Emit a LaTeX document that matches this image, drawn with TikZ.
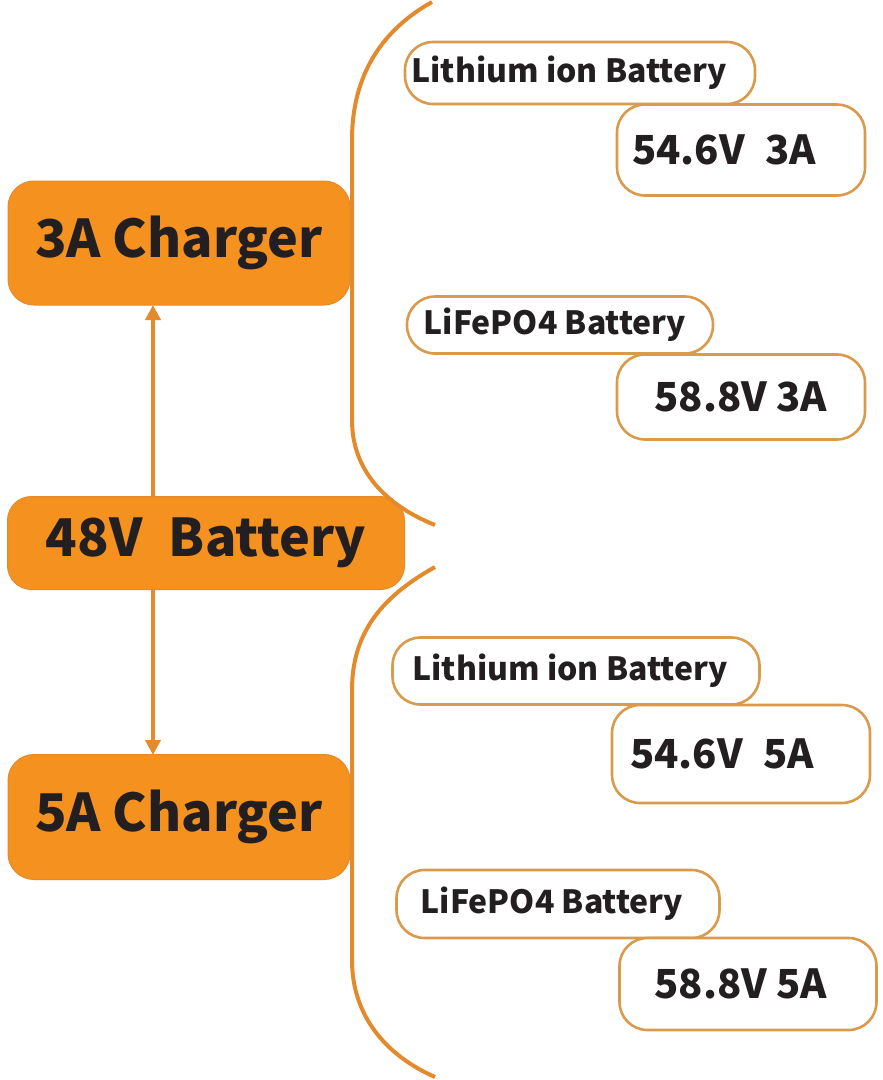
\documentclass[tikz,border=0pt]{standalone}
\usepackage{fontspec}
\setmainfont{Noto Sans CJK SC}
\usetikzlibrary{arrows.meta}
\definecolor{orfill}{HTML}{F4911F}
\definecolor{orline}{HTML}{E38B2C}
\definecolor{pillline}{HTML}{D99A4C}
\definecolor{txt}{HTML}{231F20}
\newcommand{\lsh}[1]{\hspace*{-#1}}
\tikzset{
  bigbox/.style={fill=orfill, draw=orline, line width=1pt, rounded corners=26pt, text=txt, font=\bfseries\fontsize{52}{54}\selectfont, inner sep=0pt},
  pill/.style={fill=white, draw=pillline, line width=2.6pt, rounded corners=28pt, text=txt, inner sep=0pt},
  nametext/.style={font=\bfseries\fontsize{32}{34}\selectfont},
  valtext/.style={font=\bfseries\fontsize{40}{42}\selectfont},
  brace/.style={draw=orline, line width=4pt},
  conn/.style={draw=orline, line width=4pt, -{Triangle[width=15pt,length=15pt]}}
}
\begin{document}
\begin{tikzpicture}[x=1pt,y=-1pt]
\useasboundingbox (0,0) rectangle (883,1080);
% big boxes
\node[bigbox, minimum width=342pt, minimum height=124pt] (c3) at (179,243) {3A Charger};
\node[bigbox, minimum width=397pt, minimum height=93pt, rounded corners=24pt] (bat) at (206,543) {48V\; Battery};
\node[bigbox, minimum width=342pt, minimum height=125pt] (c5) at (179,817) {5A Charger};
% connectors
\coordinate (bt) at (153,497);
\coordinate (bb) at (153,590);
\coordinate (c3b) at (153,305);
\coordinate (c5t) at (153,755);
\draw[conn] (bt) -- (c3b);
\draw[conn] (bb) -- (c5t);
% braces
\draw[brace] (432,2) .. controls (382,30) and (352,75) .. (352,140) -- (352,420) .. controls (352,470) and (385,505) .. (435,525);
\draw[brace] (435,567) .. controls (385,595) and (352,630) .. (352,690) -- (352,960) .. controls (352,1015) and (385,1055) .. (435,1077);
% pills upper
\node[pill, nametext, minimum width=350pt, minimum height=62pt] (li1) at (580,73) {\lsh{22pt}Lithium ion Battery};
\node[pill, valtext, minimum width=248pt, minimum height=91pt] (v1) at (741,150) {\lsh{34pt}54.6V\; 3A};
\node[pill, nametext, minimum width=306pt, minimum height=57pt] (fe1) at (560,325) {\lsh{10pt}LiFePO4 Battery};
\node[pill, valtext, minimum width=248pt, minimum height=85pt] (v2) at (741,397) {58.8V 3A};
% pills lower
\node[pill, nametext, minimum width=367pt, minimum height=67pt] (li2) at (576,671) {\lsh{12pt}Lithium ion Battery};
\node[pill, valtext, minimum width=258pt, minimum height=98pt] (v3) at (741,754) {\lsh{38pt}54.6V\; 5A};
\node[pill, nametext, minimum width=323pt, minimum height=68pt] (fe2) at (558,904) {\lsh{12pt}LiFePO4 Battery};
\node[pill, valtext, minimum width=257pt, minimum height=92pt] (v4) at (748,984) {\lsh{14pt}58.8V 5A};
\end{tikzpicture}
\end{document}
